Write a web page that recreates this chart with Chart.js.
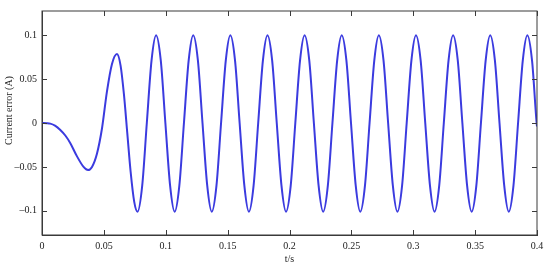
<!DOCTYPE html>
<html>
<head>
<meta charset="utf-8">
<script src="https://cdn.jsdelivr.net/npm/chart.js@4.4.1/dist/chart.umd.min.js"></script>
<style>
  html, body { margin: 0; padding: 0; background: #fff; }
  #wrap { width: 550px; height: 271px; }
</style>
</head>
<body>
<div id="wrap"><canvas id="myChart" width="550" height="271"></canvas></div>
<script>
// tick values and labels
const xTicks = [0, 0.05, 0.1, 0.15, 0.2, 0.25, 0.3, 0.35, 0.4];
const xTickLabels = ["0", "0.05", "0.1", "0.15", "0.2", "0.25", "0.3", "0.35", "0.4"];
const yTicks = [-0.1, -0.05, 0, 0.05, 0.1];
const yTickLabels = ["\u20130.1", "\u20130.05", "0", "0.05", "0.1"];

// time (s): start-up transient, then one cycle per line
const time = [
  0, 0.004, 0.0067, 0.0105, 0.0148, 0.019, 0.0229, 0.0283, 0.0336, 0.0372,
  0.0404, 0.0444, 0.0485, 0.0525, 0.0565, 0.0606,
  0.0635, 0.0662, 0.0689, 0.0716, 0.0745,
  0.0772, 0.0810, 0.0847, 0.0885, 0.0922, 0.0960, 0.0997, 0.1035,
  0.1072, 0.1110, 0.1147, 0.1185, 0.1222, 0.1260, 0.1297, 0.1335,
  0.1372, 0.1410, 0.1447, 0.1485, 0.1522, 0.1560, 0.1597, 0.1635,
  0.1672, 0.1710, 0.1747, 0.1785, 0.1822, 0.1860, 0.1897, 0.1935,
  0.1972, 0.2010, 0.2047, 0.2085, 0.2122, 0.2160, 0.2197, 0.2235,
  0.2272, 0.2310, 0.2347, 0.2385, 0.2422, 0.2460, 0.2497, 0.2535,
  0.2572, 0.2610, 0.2647, 0.2685, 0.2722, 0.2760, 0.2797, 0.2835,
  0.2872, 0.2910, 0.2947, 0.2985, 0.3022, 0.3060, 0.3097, 0.3135,
  0.3172, 0.3210, 0.3247, 0.3285, 0.3322, 0.3360, 0.3397, 0.3435,
  0.3472, 0.3510, 0.3547, 0.3585, 0.3622, 0.3660, 0.3697, 0.3735,
  0.3772, 0.3810, 0.3847, 0.3885, 0.3922, 0.3960, 0.3997, 0.4000
];

// current error (A) at those times
const current = [
  0, -0.0002, -0.0007, -0.003, -0.008, -0.0145, -0.023, -0.038, -0.050, -0.0536,
  -0.050, -0.035, -0.006, 0.036, 0.067, 0.0786,
  0.0654, 0.0328, -0.0112, -0.0552, -0.0895,
  -0.101, -0.071, 0, 0.071, 0.1, 0.071, 0, -0.071,
  -0.101, -0.071, 0, 0.071, 0.1, 0.071, 0, -0.071,
  -0.101, -0.071, 0, 0.071, 0.1, 0.071, 0, -0.071,
  -0.101, -0.071, 0, 0.071, 0.1, 0.071, 0, -0.071,
  -0.101, -0.071, 0, 0.071, 0.1, 0.071, 0, -0.071,
  -0.101, -0.071, 0, 0.071, 0.1, 0.071, 0, -0.071,
  -0.101, -0.071, 0, 0.071, 0.1, 0.071, 0, -0.071,
  -0.101, -0.071, 0, 0.071, 0.1, 0.071, 0, -0.071,
  -0.101, -0.071, 0, 0.071, 0.1, 0.071, 0, -0.071,
  -0.101, -0.071, 0, 0.071, 0.1, 0.071, 0, -0.071,
  -0.101, -0.071, 0, 0.071, 0.1, 0.071, 0, -0.004
];

const axisColor = "#3a3a3a";
const textColor = "#222";
const serif = "'Liberation Serif', 'Times New Roman', serif";

// frame and inward ticks on all four sides
const frameTicks = {
  id: "frameTicks",
  afterDraw(chart) {
    const ctx = chart.ctx;
    const a = chart.chartArea;
    const len = 5;
    ctx.save();
    ctx.strokeStyle = axisColor;
    ctx.lineWidth = 1;
    ctx.strokeRect(a.left, a.top, a.right - a.left, a.bottom - a.top);
    ctx.beginPath();
    chart.scales.x.ticks.forEach(t => {
      const px = Math.round(chart.scales.x.getPixelForValue(t.value)) + 0.5;
      ctx.moveTo(px, a.bottom); ctx.lineTo(px, a.bottom - len);
      ctx.moveTo(px, a.top); ctx.lineTo(px, a.top + len);
    });
    chart.scales.y.ticks.forEach(t => {
      const py = Math.round(chart.scales.y.getPixelForValue(t.value)) + 0.5;
      ctx.moveTo(a.left, py); ctx.lineTo(a.left + len, py);
      ctx.moveTo(a.right, py); ctx.lineTo(a.right - len, py);
    });
    ctx.stroke();
    ctx.restore();
  }
};

const ctx = document.getElementById("myChart").getContext("2d");

const chart = new Chart(ctx, {
  type: "line",
  data: {
    datasets: [{
      label: "Current error",
      data: time.map((t, i) => ({ x: t, y: current[i] })),
      borderColor: "#3b3bdf",
      borderWidth: 2,
      pointRadius: 0,
      fill: false,
      cubicInterpolationMode: "monotone"
    }]
  },
  options: {
    responsive: false,
    animation: false,
    layout: { padding: { left: 0, right: 13, top: 10, bottom: 0 } },
    plugins: {
      legend: { display: false },
      tooltip: { enabled: false }
    },
    scales: {
      x: {
        type: "linear",
        min: 0,
        max: 0.4,
        afterBuildTicks: s => { s.ticks = xTicks.map(v => ({ value: v })); },
        afterFit: s => { s.height = 36; },
        grid: { display: false, drawTicks: false },
        border: { display: true, color: axisColor },
        ticks: {
          color: textColor,
          font: { family: serif, size: 10 },
          padding: 5,
          maxRotation: 0,
          autoSkip: false,
          callback: (v, i) => xTickLabels[i]
        },
        title: {
          display: true,
          text: "t/s",
          color: textColor,
          font: { family: serif, size: 10 },
          padding: { top: 0, bottom: 6 }
        }
      },
      y: {
        min: -0.1275,
        max: 0.1275,
        afterBuildTicks: s => { s.ticks = yTicks.map(v => ({ value: v })); },
        afterFit: s => { s.width = 42; },
        grid: { display: false, drawTicks: false },
        border: { display: true, color: axisColor },
        ticks: {
          color: textColor,
          font: { family: serif, size: 10 },
          padding: 5,
          autoSkip: false,
          callback: (v, i) => yTickLabels[i]
        },
        title: {
          display: true,
          text: "\u2002\u2002\u2002\u2002\u2002Current error (A)",
          color: textColor,
          font: { family: serif, size: 10 },
          padding: { top: 3.5, bottom: 0 }
        }
      }
    }
  },
  plugins: [frameTicks]
});
</script>
</body>
</html>
